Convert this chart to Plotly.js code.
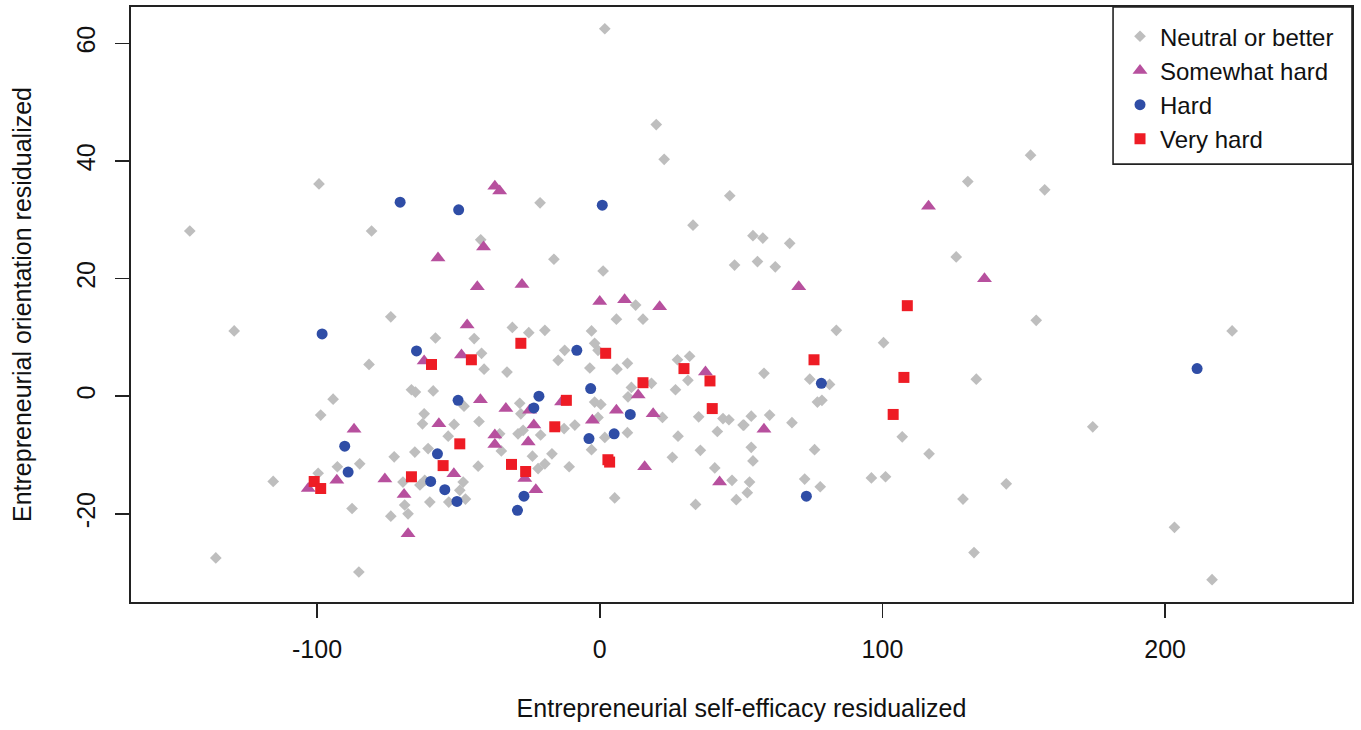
<!DOCTYPE html>
<html>
<head>
<meta charset="utf-8">
<script src="https://cdn.plot.ly/plotly-3.0.1.min.js"></script>
<style>html,body{margin:0;padding:0;background:#fff;}#chart{width:1361px;height:730px;}</style>
</head>
<body>
<div id="chart"></div>
<script>
// Neutral or better (gray diamonds)
const neutralX = [-145, -99.3, -80.7, 1.8, 20.0, 22.8, -21.1, 46, 33, -42.1, -16.2, 1.2, 47.7, 12.7, 152.4, 130.2, 157.4, 54.2, 57.7, 67.2, 55.8, 62.1, 126.1,
  -129.3, -73.9, -58.1, -81.6, -94.3, -98.7, -66.6, -65.2, -58.9, -62.1, -62.7, -72.7, -65.4, -60.7, -84.9, -92.8, -99.6, -115.5, -69.6, -63.6, -61.9, -69.0, -67.8, -60.1, -87.6, -73.9, -135.8, -85.2,
  -44.4, -30.9, -25.1, -19.4, -2.9, 5.9, 15.3, -12.4, -14.7, -1.8, -0.6, -3.5, 6.1, 9.8, -41.8, -40.9, -32.8, -48.0, -28.3, -27.9, -8.8, -12.6, -1.8, 0.4, 11.2, 10.0, 9.8, 18.3, 22.2, -0.6, 1.8, -2.9, 25.7, 27.7, 35.6, 5.3, 26.8, 27.5, 31.8, 31.2, 35.0, 41.6, 43.6, 45.7, 50.7, 40.7, 46.8, 48.3, 33.9, -51.5, -53.6, -42.7, -35.4, -34.8, -28.9, -27.1, -20.9, -16.9, -23.8, -43.0, -21.8, -19.4, -10.8, -48.3, -49.5, -47.5, -53.4,
  154.4, 83.7, 100.4, 58.1, 74.3, 81.3, 77.0, 78.6, 133.2, 53.6, 51.0, 60.1, 68.0, 53.6, 54.2, 76.0, 107.0, 116.5, 53.0, 52.2, 72.5, 78.0, 96.1, 101.1, 128.5, 143.8, 132.4,
  223.7, 174.4, 203.3, 216.6];
const neutralY = [28.1, 36.1, 28.1, 62.5, 46.2, 40.3, 32.9, 34.1, 29.1, 26.6, 23.3, 21.3, 22.3, 15.5, 41.0, 36.5, 35.1, 27.3, 26.9, 26.0, 22.9, 22.0, 23.7,
  11.1, 13.5, 9.9, 5.4, -0.5, -3.2, 1.1, 0.7, 0.9, -3.0, -4.7, -10.3, -9.5, -8.9, -11.5, -12.0, -13.1, -14.5, -14.6, -15.1, -14.3, -18.5, -20.0, -18.0, -19.1, -20.4, -27.5, -29.9,
  9.8, 11.7, 10.8, 11.2, 11.1, 13.1, 13.1, 7.8, 6.1, 9.0, 7.8, 4.8, 4.6, 5.6, 7.3, 4.6, 4.1, -1.7, -1.2, -3.0, -4.9, -5.5, -1.0, -1.4, 1.5, -0.1, -6.2, 2.2, -3.6, -3.6, -7.0, -9.1, -10.4, -6.8, -9.2, -17.3, 1.1, 6.2, 6.8, 2.7, -3.5, -6.0, -3.8, -4.0, -4.9, -12.2, -14.3, -17.6, -18.4, -4.8, -6.8, -4.3, -6.4, -9.3, -6.4, -5.8, -6.6, -9.8, -10.2, -11.9, -12.3, -11.5, -12.0, -14.6, -16.0, -17.5, -18.0,
  12.9, 11.2, 9.1, 3.9, 2.9, 2.0, -1.0, -0.7, 2.9, -3.4, -4.9, -3.2, -4.5, -8.7, -11.0, -9.1, -6.9, -9.8, -14.6, -16.4, -14.1, -15.4, -13.9, -13.7, -17.5, -14.9, -26.6,
  11.1, -5.2, -22.3, -31.2];

// Somewhat hard (magenta triangles)
const somewhatX = [-57.2, -37.1, -35.4, -41.1, -43.3, -27.5, 0, 8.8, 21.2, 116.3, 70.4, 136.1, -62.1, -56.9, -86.9, -103.1, -93.0, -76.0, -69.2, -67.8, -46.9, -48.9, -42.2, -33.2, -24.8, -13.5, 5.9, 13.6, 18.9, -2.6, 15.9, 37.4, 42.4, -37.1, -37.1, -23.3, -25.3, -26.5, -22.6, -51.6, 58.1];
const somewhatY = [23.5, 35.7, 34.9, 25.4, 18.6, 19.0, 16.1, 16.4, 15.2, 32.3, 18.6, 20.0, 6.0, -4.7, -5.6, -15.7, -14.3, -14.1, -16.7, -23.4, 12.1, 7.0, -0.6, -2.1, -2.4, -1.0, -2.4, 0.2, -3.0, -4.1, -12.0, 4.1, -14.6, -6.6, -8.2, -4.9, -7.8, -14.0, -15.9, -13.2, -5.6];

// Hard (blue circles)
const hardX = [-70.6, 0.9, -49.9, -98.2, -64.8, -90.2, -57.4, -89.0, -59.8, -54.8, -8.1, -50.1, -21.5, -23.3, -3.2, 10.8, -3.8, 5.1, -26.8, -29.1, -50.5, 78.4, 73.1, 211.3];
const hardY = [33.0, 32.5, 31.7, 10.6, 7.7, -8.5, -9.8, -12.9, -14.5, -15.9, 7.8, -0.7, 0.0, -2.0, 1.3, -3.1, -7.2, -6.4, -17.0, -19.4, -17.9, 2.2, -17.0, 4.7];

// Very hard (red squares)
const veryX = [-59.5, -55.4, -101.0, -98.7, -66.6, -27.9, 2.1, -45.4, -11.8, 15.3, 2.9, 29.8, 39.0, 39.8, -49.5, -31.2, -26.2, 108.8, 75.8, 107.6, 103.8, -15.9, 3.5];
const veryY = [5.4, -11.8, -14.5, -15.7, -13.7, 9.0, 7.3, 6.2, -0.7, 2.3, -10.8, 4.7, 2.6, -2.1, -8.1, -11.6, -12.8, 15.4, 6.2, 3.2, -3.1, -5.2, -11.2];

const seriesNames = ["Neutral or better", "Somewhat hard", "Hard", "Very hard"];
const xTicks = [-100, 0, 100, 200];
const yTicks = [-20, 0, 20, 40, 60];

const FONT = "Liberation Sans, Arial, sans-serif";

const traces = [
  {x: neutralX, y: neutralY, name: seriesNames[0], type: "scatter", mode: "markers",
   marker: {symbol: "diamond", size: 9, color: "#BEBEBE"}},
  {x: somewhatX, y: somewhatY, name: seriesNames[1], type: "scatter", mode: "markers",
   marker: {symbol: "triangle-up", size: 13, color: "#B7509E"}},
  {x: hardX, y: hardY, name: seriesNames[2], type: "scatter", mode: "markers",
   marker: {symbol: "circle", size: 11, color: "#2F4DA6"}},
  {x: veryX, y: veryY, name: seriesNames[3], type: "scatter", mode: "markers",
   marker: {symbol: "square", size: 11, color: "#EE1C25"}}
];

const axisCommon = {
  showgrid: false, zeroline: false, showline: true, mirror: true,
  linecolor: "#222", linewidth: 1.6, ticks: "outside", ticklen: 14, tickwidth: 1.6, tickcolor: "#222",
  tickfont: {family: FONT, size: 25, color: "#111"}
};

const layout = {
  width: 1361, height: 730,
  margin: {l: 131, r: 9, t: 7, b: 128},
  paper_bgcolor: "#fff", plot_bgcolor: "#fff",
  showlegend: true,
  font: {family: FONT, color: "#111"},
  xaxis: Object.assign({}, axisCommon, {
    range: [-165.8, 266.1], tickvals: xTicks, ticktext: xTicks.map(String),
    ticklabelstandoff: 10,
    title: {text: "Entrepreneurial self-efficacy residualized", font: {family: FONT, size: 25, color: "#111"}, standoff: 38}
  }),
  yaxis: Object.assign({}, axisCommon, {
    range: [-35.0, 66.2], tickvals: yTicks, ticktext: yTicks.map(String), tickangle: -90,
    ticklabelstandoff: 10,
    title: {text: "Entrepreneurial orientation residualized", font: {family: FONT, size: 25, color: "#111"}, standoff: 33}
  }),
  legend: {
    x: 0.81, y: 0.988, xanchor: "left", yanchor: "top",
    bgcolor: "rgba(0,0,0,0)", borderwidth: 0,
    font: {family: FONT, size: 24, color: "#111"},
    itemwidth: 30, tracegroupgap: 0
  },
  shapes: [{type: "rect", xref: "paper", yref: "paper", x0: 0.8043, x1: 1, y0: 0.736, y1: 1,
    line: {color: "#222", width: 1.6}, fillcolor: "rgba(0,0,0,0)", layer: "above"}]
};

Plotly.newPlot("chart", traces, layout, {displayModeBar: false, staticPlot: true});
</script>
</body>
</html>
